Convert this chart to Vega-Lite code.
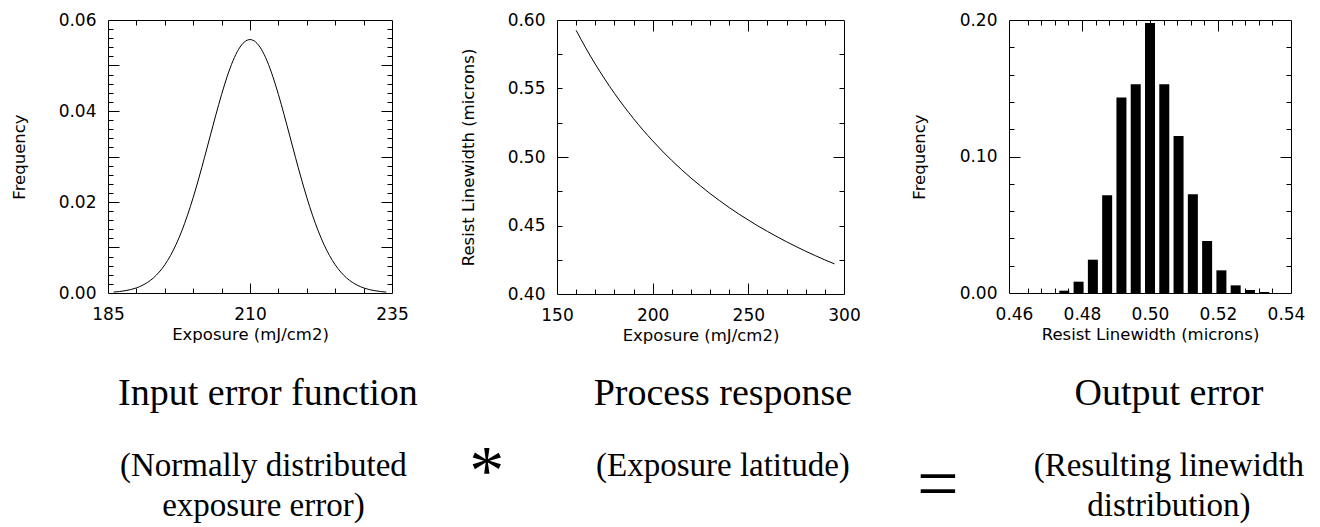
{
  "$schema": "https://vega.github.io/schema/vega-lite/v6.json",
  "padding": {"left": 10, "top": 10, "right": 5, "bottom": 2},
  "background": "white",
  "config": {
    "view": {"stroke": "black", "strokeWidth": 1},
    "axis": {"labelColor": "black", "titleColor": "black", "tickColor": "black", "tickWidth": 1, "labelFont": "DejaVu Sans", "titleFont": "DejaVu Sans", "labelFontSize": 17, "titleFontSize": 16.5, "titleFontWeight": "normal", "grid": false, "domain": false, "labelFlush": false, "labelOverlap": false}
  },
  "bounds": "flush",
  "spacing": 314,
  "vconcat": [
    {
      "bounds": "flush",
      "spacing": 165,
      "hconcat": [
        {
          "width": 284, "height": 273,
          "data": {"values": [
            {"exposure": 186, "frequency": 0.0002}, {"exposure": 187, "frequency": 0.00032}, {"exposure": 188, "frequency": 0.0005}, {"exposure": 189, "frequency": 0.00075}, {"exposure": 190, "frequency": 0.00112}, {"exposure": 191, "frequency": 0.00165}, {"exposure": 192, "frequency": 0.00236}, {"exposure": 193, "frequency": 0.00332}, {"exposure": 194, "frequency": 0.00458}, {"exposure": 195, "frequency": 0.0062}, {"exposure": 196, "frequency": 0.00823}, {"exposure": 197, "frequency": 0.01071}, {"exposure": 198, "frequency": 0.01367}, {"exposure": 199, "frequency": 0.01711}, {"exposure": 200, "frequency": 0.021}, {"exposure": 201, "frequency": 0.02528}, {"exposure": 202, "frequency": 0.02983}, {"exposure": 203, "frequency": 0.03453}, {"exposure": 204, "frequency": 0.0392}, {"exposure": 205, "frequency": 0.04365}, {"exposure": 206, "frequency": 0.04765}, {"exposure": 207, "frequency": 0.05102}, {"exposure": 208, "frequency": 0.05357}, {"exposure": 209, "frequency": 0.05516}, {"exposure": 210, "frequency": 0.0557}, {"exposure": 211, "frequency": 0.05516}, {"exposure": 212, "frequency": 0.05357}, {"exposure": 213, "frequency": 0.05102}, {"exposure": 214, "frequency": 0.04765}, {"exposure": 215, "frequency": 0.04365}, {"exposure": 216, "frequency": 0.0392}, {"exposure": 217, "frequency": 0.03453}, {"exposure": 218, "frequency": 0.02983}, {"exposure": 219, "frequency": 0.02528}, {"exposure": 220, "frequency": 0.021}, {"exposure": 221, "frequency": 0.01711}, {"exposure": 222, "frequency": 0.01367}, {"exposure": 223, "frequency": 0.01071}, {"exposure": 224, "frequency": 0.00823}, {"exposure": 225, "frequency": 0.0062}, {"exposure": 226, "frequency": 0.00458}, {"exposure": 227, "frequency": 0.00332}, {"exposure": 228, "frequency": 0.00236}, {"exposure": 229, "frequency": 0.00165}, {"exposure": 230, "frequency": 0.00112}, {"exposure": 231, "frequency": 0.00075}, {"exposure": 232, "frequency": 0.0005}, {"exposure": 233, "frequency": 0.00032}, {"exposure": 234, "frequency": 0.0002}
          ]},
          "encoding": {
            "x": {"field": "exposure", "type": "quantitative", "scale": {"domain": [185, 235], "nice": false, "zero": false}},
            "y": {"field": "frequency", "type": "quantitative", "scale": {"domain": [0, 0.06], "nice": false}}
          },
          "layer": [
            {"mark": {"type": "line", "color": "black", "strokeWidth": 1, "interpolate": "monotone"},
             "encoding": {
               "x": {"field": "exposure", "type": "quantitative", "axis": {"orient": "bottom", "title": "Exposure (mJ/cm2)", "values": [185, 210, 235], "ticks": false, "tickSize": 0, "labelPadding": 13.5, "titlePadding": 4}},
               "y": {"field": "frequency", "type": "quantitative", "axis": {"orient": "left", "title": "Frequency", "values": [0, 0.02, 0.04, 0.06], "format": ".2f", "ticks": false, "tickSize": 0, "labelPadding": 12, "titlePadding": 31}}
             }},
            {"mark": {"type": "point", "opacity": 0},
             "encoding": {
               "x": {"field": "exposure", "type": "quantitative", "axis": {"orient": "top", "title": null, "labels": false, "values": [190, 195, 200, 205, 215, 220, 225, 230], "tickSize": -5}},
               "y": {"field": "frequency", "type": "quantitative", "axis": {"orient": "left", "title": null, "labels": false, "values": [0.002, 0.004, 0.006, 0.008, 0.012, 0.014, 0.016, 0.018, 0.022, 0.024, 0.026, 0.028, 0.032, 0.034, 0.036, 0.038, 0.042, 0.044, 0.046, 0.048, 0.052, 0.054, 0.056, 0.058], "tickSize": -5}}
             }},
            {"mark": {"type": "point", "opacity": 0},
             "encoding": {
               "x": {"field": "exposure", "type": "quantitative", "axis": {"orient": "bottom", "title": null, "labels": false, "values": [190, 195, 200, 205, 215, 220, 225, 230], "tickSize": -5}},
               "y": {"field": "frequency", "type": "quantitative", "axis": {"orient": "right", "title": null, "labels": false, "values": [0.002, 0.004, 0.006, 0.008, 0.012, 0.014, 0.016, 0.018, 0.022, 0.024, 0.026, 0.028, 0.032, 0.034, 0.036, 0.038, 0.042, 0.044, 0.046, 0.048, 0.052, 0.054, 0.056, 0.058], "tickSize": -5}}
             }},
            {"mark": {"type": "point", "opacity": 0},
             "encoding": {
               "x": {"field": "exposure", "type": "quantitative", "axis": {"orient": "top", "title": null, "labels": false, "values": [210], "tickSize": -10}},
               "y": {"field": "frequency", "type": "quantitative", "axis": {"orient": "left", "title": null, "labels": false, "values": [0.01, 0.02, 0.03, 0.04, 0.05], "tickSize": -11}}
             }},
            {"mark": {"type": "point", "opacity": 0},
             "encoding": {
               "x": {"field": "exposure", "type": "quantitative", "axis": {"orient": "bottom", "title": null, "labels": false, "values": [210], "tickSize": -10}},
               "y": {"field": "frequency", "type": "quantitative", "axis": {"orient": "right", "title": null, "labels": false, "values": [0.01, 0.02, 0.03, 0.04, 0.05], "tickSize": -11}}
             }}
          ],
          "resolve": {"axis": {"x": "independent", "y": "independent"}}
        },
        {
          "width": 287, "height": 274,
          "data": {"values": [
            {"exposure": 160, "linewidth": 0.5925}, {"exposure": 165, "linewidth": 0.5797}, {"exposure": 170, "linewidth": 0.5678}, {"exposure": 175, "linewidth": 0.5568}, {"exposure": 180, "linewidth": 0.5465}, {"exposure": 185, "linewidth": 0.537}, {"exposure": 190, "linewidth": 0.528}, {"exposure": 195, "linewidth": 0.5196}, {"exposure": 200, "linewidth": 0.5118}, {"exposure": 205, "linewidth": 0.5044}, {"exposure": 210, "linewidth": 0.4974}, {"exposure": 215, "linewidth": 0.4909}, {"exposure": 220, "linewidth": 0.4847}, {"exposure": 225, "linewidth": 0.4789}, {"exposure": 230, "linewidth": 0.4733}, {"exposure": 235, "linewidth": 0.4681}, {"exposure": 240, "linewidth": 0.4631}, {"exposure": 245, "linewidth": 0.4584}, {"exposure": 250, "linewidth": 0.454}, {"exposure": 255, "linewidth": 0.4497}, {"exposure": 260, "linewidth": 0.4457}, {"exposure": 265, "linewidth": 0.4418}, {"exposure": 270, "linewidth": 0.4381}, {"exposure": 275, "linewidth": 0.4346}, {"exposure": 280, "linewidth": 0.4312}, {"exposure": 285, "linewidth": 0.428}, {"exposure": 290, "linewidth": 0.4249}, {"exposure": 295, "linewidth": 0.422}
          ]},
          "encoding": {
            "x": {"field": "exposure", "type": "quantitative", "scale": {"domain": [150, 300], "nice": false, "zero": false}},
            "y": {"field": "linewidth", "type": "quantitative", "scale": {"domain": [0.4, 0.6], "nice": false, "zero": false}}
          },
          "layer": [
            {"mark": {"type": "line", "color": "black", "strokeWidth": 1, "interpolate": "monotone"},
             "encoding": {
               "x": {"field": "exposure", "type": "quantitative", "axis": {"orient": "bottom", "title": "Exposure (mJ/cm2)", "values": [150, 200, 250, 300], "ticks": false, "tickSize": 0, "labelPadding": 13.5, "titlePadding": 4}},
               "y": {"field": "linewidth", "type": "quantitative", "axis": {"orient": "left", "title": "Resist Linewidth (microns)", "values": [0.4, 0.45, 0.5, 0.55, 0.6], "format": ".2f", "ticks": false, "tickSize": 0, "labelPadding": 12, "titlePadding": 31}}
             }},
            {"mark": {"type": "point", "opacity": 0},
             "encoding": {
               "x": {"field": "exposure", "type": "quantitative", "axis": {"orient": "top", "title": null, "labels": false, "values": [160, 170, 180, 190, 210, 220, 230, 240, 260, 270, 280, 290], "tickSize": -5}},
               "y": {"field": "linewidth", "type": "quantitative", "axis": {"orient": "left", "title": null, "labels": false, "values": [0.425, 0.45, 0.475, 0.525, 0.55, 0.575], "tickSize": -5}}
             }},
            {"mark": {"type": "point", "opacity": 0},
             "encoding": {
               "x": {"field": "exposure", "type": "quantitative", "axis": {"orient": "bottom", "title": null, "labels": false, "values": [160, 170, 180, 190, 210, 220, 230, 240, 260, 270, 280, 290], "tickSize": -5}},
               "y": {"field": "linewidth", "type": "quantitative", "axis": {"orient": "right", "title": null, "labels": false, "values": [0.425, 0.45, 0.475, 0.525, 0.55, 0.575], "tickSize": -5}}
             }},
            {"mark": {"type": "point", "opacity": 0},
             "encoding": {
               "x": {"field": "exposure", "type": "quantitative", "axis": {"orient": "top", "title": null, "labels": false, "values": [200, 250], "tickSize": -11}},
               "y": {"field": "linewidth", "type": "quantitative", "axis": {"orient": "left", "title": null, "labels": false, "values": [0.5], "tickSize": -11}}
             }},
            {"mark": {"type": "point", "opacity": 0},
             "encoding": {
               "x": {"field": "exposure", "type": "quantitative", "axis": {"orient": "bottom", "title": null, "labels": false, "values": [200, 250], "tickSize": -11}},
               "y": {"field": "linewidth", "type": "quantitative", "axis": {"orient": "right", "title": null, "labels": false, "values": [0.5], "tickSize": -11}}
             }}
          ],
          "resolve": {"axis": {"x": "independent", "y": "independent"}}
        },
        {
          "width": 282, "height": 273,
          "data": {"values": [
            {"linewidth": 0.4748, "frequency": 0.0017}, {"linewidth": 0.479, "frequency": 0.0083}, {"linewidth": 0.4832, "frequency": 0.0244}, {"linewidth": 0.4874, "frequency": 0.0716}, {"linewidth": 0.4916, "frequency": 0.1433}, {"linewidth": 0.4958, "frequency": 0.1529}, {"linewidth": 0.5, "frequency": 0.1978}, {"linewidth": 0.5042, "frequency": 0.1529}, {"linewidth": 0.5084, "frequency": 0.115}, {"linewidth": 0.5126, "frequency": 0.0723}, {"linewidth": 0.5168, "frequency": 0.0381}, {"linewidth": 0.521, "frequency": 0.0166}, {"linewidth": 0.5252, "frequency": 0.0056}, {"linewidth": 0.5294, "frequency": 0.0022}, {"linewidth": 0.5336, "frequency": 0.0007}
          ]},
          "encoding": {
            "x": {"field": "linewidth", "type": "quantitative", "scale": {"domain": [0.46, 0.54], "nice": false, "zero": false}},
            "y": {"field": "frequency", "type": "quantitative", "scale": {"domain": [0, 0.2], "nice": false}}
          },
          "layer": [
            {"mark": {"type": "bar", "color": "black", "size": 10},
             "encoding": {
               "x": {"field": "linewidth", "type": "quantitative", "axis": {"orient": "bottom", "title": "Resist Linewidth (microns)", "values": [0.46, 0.48, 0.5, 0.52, 0.54], "format": ".2f", "ticks": false, "tickSize": 0, "labelPadding": 13.5, "titlePadding": 4}},
               "y": {"field": "frequency", "type": "quantitative", "axis": {"orient": "left", "title": "Frequency", "values": [0, 0.1, 0.2], "format": ".2f", "ticks": false, "tickSize": 0, "labelPadding": 12, "titlePadding": 32}}
             }},
            {"mark": {"type": "point", "opacity": 0},
             "encoding": {
               "x": {"field": "linewidth", "type": "quantitative", "axis": {"orient": "top", "title": null, "labels": false, "values": [0.464, 0.468, 0.472, 0.476, 0.484, 0.488, 0.492, 0.496, 0.504, 0.508, 0.512, 0.516, 0.524, 0.528, 0.532, 0.536], "tickSize": -5}},
               "y": {"field": "frequency", "type": "quantitative", "axis": {"orient": "left", "title": null, "labels": false, "values": [0.02, 0.04, 0.06, 0.08, 0.12, 0.14, 0.16, 0.18], "tickSize": -5}}
             }},
            {"mark": {"type": "point", "opacity": 0},
             "encoding": {
               "x": {"field": "linewidth", "type": "quantitative", "axis": {"orient": "bottom", "title": null, "labels": false, "values": [0.464, 0.468, 0.472, 0.476, 0.484, 0.488, 0.492, 0.496, 0.504, 0.508, 0.512, 0.516, 0.524, 0.528, 0.532, 0.536], "tickSize": -5}},
               "y": {"field": "frequency", "type": "quantitative", "axis": {"orient": "right", "title": null, "labels": false, "values": [0.02, 0.04, 0.06, 0.08, 0.12, 0.14, 0.16, 0.18], "tickSize": -5}}
             }},
            {"mark": {"type": "point", "opacity": 0},
             "encoding": {
               "x": {"field": "linewidth", "type": "quantitative", "axis": {"orient": "top", "title": null, "labels": false, "values": [0.48, 0.5, 0.52], "tickSize": -11}},
               "y": {"field": "frequency", "type": "quantitative", "axis": {"orient": "left", "title": null, "labels": false, "values": [0.1], "tickSize": -11}}
             }},
            {"mark": {"type": "point", "opacity": 0},
             "encoding": {
               "x": {"field": "linewidth", "type": "quantitative", "axis": {"orient": "bottom", "title": null, "labels": false, "values": [0.48, 0.5, 0.52], "tickSize": -11}},
               "y": {"field": "frequency", "type": "quantitative", "axis": {"orient": "right", "title": null, "labels": false, "values": [0.1], "tickSize": -11}}
             }}
          ],
          "resolve": {"axis": {"x": "independent", "y": "independent"}}
        }
      ]
    },
    {
      "width": 1183, "height": 192,
      "view": {"stroke": null},
      "data": {"values": [
        {"caption": "Input error function", "slot": 1.04, "line": 1, "kind": "title"},
        {"caption": "Process response", "slot": 2.05, "line": 1, "kind": "title"},
        {"caption": "Output error", "slot": 3.04, "line": 1, "kind": "title"},
        {"caption": "(Normally distributed", "slot": 1.03, "line": 2.8, "kind": "note"},
        {"caption": "exposure error)", "slot": 1.03, "line": 3.8, "kind": "note"},
        {"caption": "(Exposure latitude)", "slot": 2.05, "line": 2.8, "kind": "note"},
        {"caption": "(Resulting linewidth", "slot": 3.04, "line": 2.8, "kind": "note"},
        {"caption": "distribution)", "slot": 3.04, "line": 3.8, "kind": "note"},
        {"caption": "*", "slot": 1.526, "line": 2.98, "kind": "star"},
        {"caption": "=", "slot": 2.527, "line": 3.3, "kind": "equals"}
      ]},
      "encoding": {
        "x": {"field": "slot", "type": "quantitative", "scale": {"domain": [0.685, 3.311], "nice": false, "zero": false}, "axis": null},
        "y": {"field": "line", "type": "quantitative", "scale": {"domain": [-0.5, 4.3], "nice": false, "zero": false, "reverse": true}, "axis": null},
        "text": {"field": "caption", "type": "nominal"}
      },
      "layer": [
        {"transform": [{"filter": "datum.kind === 'title'"}], "mark": {"type": "text", "font": "Liberation Serif", "fontSize": 38, "color": "black", "baseline": "middle", "align": "center"}},
        {"transform": [{"filter": "datum.kind === 'note'"}], "mark": {"type": "text", "font": "Liberation Serif", "fontSize": 33, "color": "black", "baseline": "middle", "align": "center"}},
        {"transform": [{"filter": "datum.kind === 'star'"}], "mark": {"type": "text", "font": "Liberation Serif", "fontSize": 70, "color": "black", "baseline": "middle", "align": "center"}},
        {"transform": [{"filter": "datum.kind === 'equals'"}], "mark": {"type": "text", "font": "Liberation Serif", "fontSize": 74, "color": "black", "baseline": "middle", "align": "center"}}
      ]
    }
  ]
}
